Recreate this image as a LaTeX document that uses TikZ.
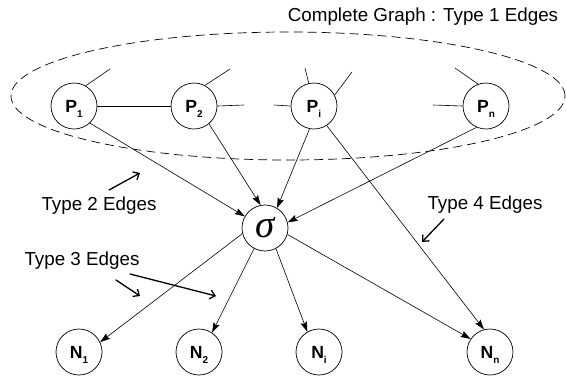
\documentclass[tikz,border=0pt]{standalone}
\usepackage{fontspec}
\setmainfont{Liberation Sans}
\newfontfamily\sigmafont{Liberation Serif}
\usetikzlibrary{arrows.meta}
% node label with a lowered small index
\newcommand\vlab[2]{#1\raisebox{-5pt}{\fontsize{10}{10}\selectfont #2}}
\begin{document}
\begin{tikzpicture}[x=1pt,y=-1pt,
  vertex/.style={circle,draw,line width=0.7pt,minimum size=46pt,inner sep=0pt,
    text depth=0pt,font=\fontsize{17.6}{17.6}\selectfont\bfseries},
  hub/.style={circle,draw,line width=0.7pt,minimum size=46pt,inner sep=0pt,
    font=\sigmafont\itshape\fontsize{39}{39}\selectfont},
  link/.style={line width=0.6pt},
  flow/.style={line width=0.6pt,-{Stealth[length=10pt,width=6.5pt,inset=1.5pt]}},
  note/.style={inner sep=0pt,font=\fontsize{18.8}{18.8}\selectfont},
  pointer/.style={line width=1.3pt,line cap=round,-{Straight Barb[length=5pt,width=9pt]}},
  group/.style={line width=0.7pt,dash pattern=on 9pt off 5pt},
]
\useasboundingbox (0,0) rectangle (566,376);

% processes P
\node[vertex] (p1) at (74,106) {\vlab{P}{1}};
\node[vertex] (p2) at (194,106) {\vlab{P}{2}};
\node[vertex] (pi) at (314,106) {\vlab{P}{i}};
\node[vertex] (pn) at (486,106) {\vlab{P}{n}};

% central node
\node[hub] (s) at (265,228) {σ};

% nodes N
\node[vertex] (n1) at (79,352) {\vlab{N}{1}};
\node[vertex] (n2) at (199,352) {\vlab{N}{2}};
\node[vertex] (ni) at (319,352) {\vlab{N}{i}};
\node[vertex] (nn) at (490,352) {\vlab{N}{n}};

% complete graph among the P nodes
\draw[group] (288,96) ellipse [x radius=277pt, y radius=64pt];
\coordinate (p1ne) at (110,69);
\coordinate (p2ne) at (230,69);
\coordinate (p2e) at (244,105);
\coordinate (pit) at (305,68);
\coordinate (pine) at (352,72);
\coordinate (piw) at (274,105);
\coordinate (pnnw) at (455,68);
\coordinate (pnw) at (433,105);
\draw[link] (p1) -- (p2);
\draw[link] (p1.60) -- (p1ne);
\draw[link] (p2.62) -- (p2ne);
\draw[link] (p2.east) -- (p2e);
\draw[link] (pi.103) -- (pit);
\draw[link] (pi.28) -- (pine);
\draw[link] (piw) -- (pi.west);
\draw[link] (pn.110) -- (pnnw);
\draw[link] (pnw) -- (pn.west);

% type 2 edges
\draw[flow] (p1.-47) -- (s.150);
\draw[flow] (p2.-50) -- (s.101);
\draw[flow] (pi.-101) -- (s.59);
\draw[flow] (pn.-114) -- (s.14);

% type 4 edge
\draw[flow] (pi.-57) -- (nn.105);

% type 3 edges
\draw[flow] (s.194) -- (n1.25);
\draw[flow] (s.242) -- (n2.56);
\draw[flow] (s.-62) -- (ni.120);
\draw[flow] (s.-16) -- (nn.146);

% captions
\node[note] (t1) at (423,17) {Complete Graph : Type 1 Edges};
\node[note] (t2) at (99,206) {Type 2 Edges};
\node[note] (t4) at (485,205) {Type 4 Edges};
\node[note] (t3) at (82,261) {Type 3 Edges};

% pointers
\coordinate (a2s) at (109,190); \coordinate (a2e) at (140,173);
\coordinate (a4s) at (444,219); \coordinate (a4e) at (422,242);
\coordinate (a3s) at (116,280); \coordinate (a3e) at (140,296);
\coordinate (a3t) at (130,274); \coordinate (a3f) at (216,296);
\draw[pointer] (a2s) -- (a2e);
\draw[pointer] (a4s) -- (a4e);
\draw[pointer] (a3s) -- (a3e);
\draw[pointer] (a3t) -- (a3f);
\end{tikzpicture}
\end{document}
